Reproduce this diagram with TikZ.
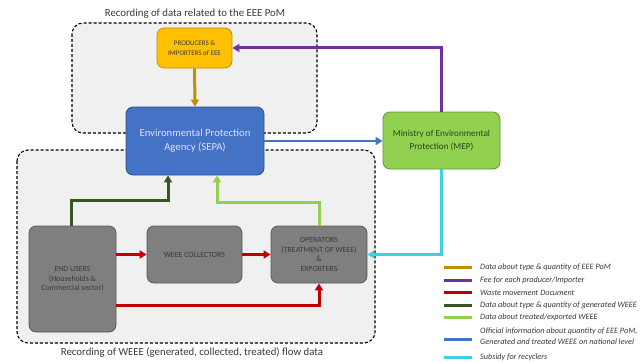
\documentclass[tikz,border=0pt]{standalone}
\usepackage{fontspec}
\setmainfont{Carlito}
\usetikzlibrary{arrows.meta}
\definecolor{cOrange}{HTML}{BF9000}
\definecolor{cYellow}{HTML}{FFC000}
\definecolor{cPurple}{HTML}{7030A0}
\definecolor{cBlue}{HTML}{4472C4}
\definecolor{cRed}{HTML}{C00000}
\definecolor{cDkGreen}{HTML}{375623}
\definecolor{cLtGreen}{HTML}{92D050}
\definecolor{cCyan}{HTML}{3FD0E2}
\definecolor{cGray}{HTML}{7F7F7F}
\definecolor{cGrayBorder}{HTML}{595959}
\definecolor{cPanel}{HTML}{F0F0F0}
\definecolor{cText}{HTML}{3A3A3A}
\tikzset{
  panel/.style={draw=black, line width=1.1pt, fill=cPanel, rounded corners=11pt, dash pattern=on 3pt off 2pt},
  boxbase/.style={rounded corners=7pt, line width=0.8pt, align=center, inner sep=1pt},
  graybox/.style={boxbase, fill=cGray, draw=cGrayBorder, text=cText, font=\fontsize{7.9}{9.5}\selectfont},
  flow/.style={line width=3pt, -{Triangle[length=7pt,width=8pt]}},
  swatch/.style={line width=3pt},
  legtext/.style={anchor=west, text=cText, font=\fontsize{8.2}{11.5}\selectfont\itshape, inner sep=0pt, align=left},
  paneltitle/.style={text=cText, font=\fontsize{10.8}{12}\selectfont, inner sep=0pt}
}
\begin{document}
\begin{tikzpicture}[x=1pt,y=-1pt]
\useasboundingbox (0,0) rectangle (644,361);
\fill[white] (0,0) rectangle (644,361);
% panels
\draw[panel] (72,23) rectangle (317,133);
\draw[panel] (17,150) rectangle (375,343);
\node[paneltitle] (t1) at (195,14) {Recording of data related to the EEE PoM};
\node[paneltitle] (t2) at (192,352) {Recording of WEEE (generated, collected, treated) flow data};
% boxes
\node[boxbase, fill=cYellow, draw=cOrange, text=cText,
      minimum width=75pt, minimum height=40pt, font=\fontsize{7}{9.5}\selectfont] (prod) at (194.5,48) {PRODUCERS \&\\IMPORTERS of EEE};
\node[boxbase, fill=cBlue, draw=cBlue!70!black, text=white!88!blue,
      minimum width=138pt, minimum height=68pt, font=\fontsize{10.7}{14}\selectfont] (sepa) at (195,141) {Environmental Protection\\Agency (SEPA)};
\node[boxbase, fill=cLtGreen, draw=cLtGreen!70!black, text=cDkGreen!80!black,
      minimum width=117pt, minimum height=57pt, font=\fontsize{9.2}{12.5}\selectfont] (mep) at (441.5,140.5) {Ministry of Environmental\\Protection (MEP)};
\node[graybox, minimum width=87pt, minimum height=106pt] (eu) at (72.5,279) {END USERS\\(Households \&\\Commercial sector)};
\node[graybox, minimum width=95pt, minimum height=57pt] (col) at (194.5,254.5) {WEEE COLLECTORS};
\node[graybox, minimum width=96pt, minimum height=57pt] (op) at (319,254.5) {OPERATORS\\(TREATMENT OF WEEE)\\\&\\EXPORTERS};
% connectors
\coordinate (dg) at (168,200);
\coordinate (lg) at (217,202);
\coordinate (rb) at (319,305);
\draw[flow, cOrange] (prod.south) -- (sepa.north);
\draw[flow, cPurple] (mep.north) |- (prod.east);
\draw[flow, cBlue, line width=2.4pt] (sepa.east) -- (sepa.east -| mep.west);
\draw[flow, cDkGreen] (eu.north -| 71,0) |- (dg) -- (dg |- sepa.south);
\draw[flow, cLtGreen] (op.north) |- (lg) -- (lg |- sepa.south);
\draw[flow, cRed] (eu.east |- col.west) -- (col.west);
\draw[flow, cRed] (col.east) -- (op.west);
\draw[flow, cRed] (rb -| eu.east) -- (rb) -- (op.south);
\draw[flow, cCyan] (mep.south) |- (op.east);
% legend
\foreach \y/\c in {267/cOrange, 280/cPurple, 292.5/cRed, 305/cDkGreen, 317.5/cLtGreen, 339/cBlue, 357.5/cCyan}
  \draw[swatch, \c] (444,\y) -- (472,\y);
\node[legtext] (l1) at (480,267) {Data about type \& quantity of EEE PoM};
\node[legtext] (l2) at (480,280) {Fee for each producer/Importer};
\node[legtext] (l3) at (480,292.5) {Waste movement Document};
\node[legtext] (l4) at (480,305) {Data about type \& quantity of generated WEEE};
\node[legtext] (l5) at (480,317.5) {Data about treated/exported WEEE};
\node[legtext] (l6) at (480,336) {Official information about quantity of EEE PoM,\\Generated and treated WEEE on national level};
\node[legtext] (l7) at (480,357.5) {Subsidy for recyclers};
\end{tikzpicture}
\end{document}
